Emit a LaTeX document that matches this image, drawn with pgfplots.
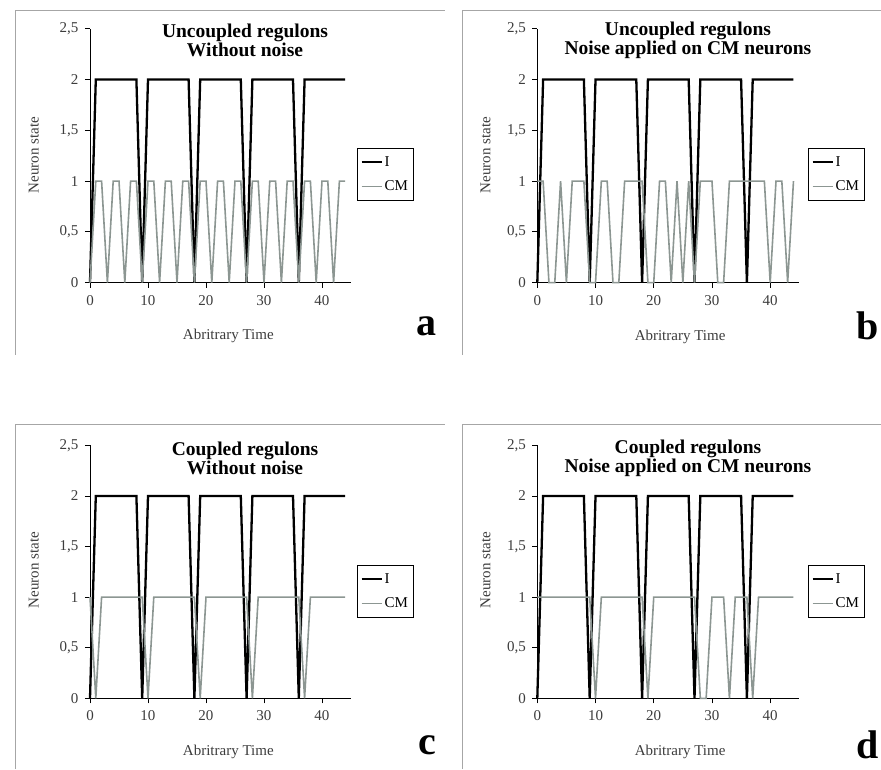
\documentclass[border=0pt]{standalone}
\usepackage{fontspec}
\setmainfont{Liberation Serif}
\usepackage{pgfplots}
\pgfplotsset{compat=1.18}
\definecolor{cmgray}{RGB}{140,150,146}
\definecolor{txt}{RGB}{60,60,60}
\pgfplotsset{
 common/.style={
  scale only axis,
  xmin=0, xmax=45, ymin=0, ymax=2.5,
  axis x line=bottom, axis y line=left,
  axis line style={-, black, line width=1pt},
  xtick={0,10,20,30,40},
  ytick={0,0.5,1,1.5,2,2.5},
  yticklabels={0,{0,5},1,{1,5},2,{2,5}},
  tick align=outside,
  major tick length=5pt,
  tick style={black, line width=0.8pt},
  tick label style={font=\fontsize{15}{15}\selectfont, text=txt},
  xticklabel style={yshift=-4pt},
  yticklabel style={xshift=-3pt},
  /pgf/number format/assume math mode=true,
  xlabel={Abritrary Time}, ylabel={Neuron state},
  label style={font=\fontsize{15}{15}\selectfont, text=txt},
  title style={font=\bfseries\fontsize{19.5}{19}\selectfont, align=center, anchor=center},
  legend style={draw=black, line width=0.8pt, font=\fontsize{15}{15}\selectfont, legend cell align=left, row sep=9pt, inner xsep=3pt, inner ysep=6pt, anchor=north west},
  legend image code/.code={\draw[##1] (0pt,0pt) -- (20pt,0pt);},
  clip=false,
 },
 Iline/.style={black, line width=2.3pt},
 CMline/.style={cmgray, line width=1.6pt},
}
\begin{document}
\begin{tikzpicture}[x=1pt,y=1pt]
\path[use as bounding box] (0pt,0pt) rectangle (881pt,769pt);
% frames
\draw[gray!70, line width=1pt] (15pt,414pt) -- (15pt,758pt) -- (445pt,758pt);
\draw[gray!70, line width=1pt] (462pt,414pt) -- (462pt,758pt) -- (881pt,758pt);
\draw[gray!70, line width=1pt] (15pt,0pt) -- (15pt,344pt) -- (445pt,344pt);
\draw[gray!70, line width=1pt] (462pt,0pt) -- (462pt,344pt) -- (881pt,344pt);

% panel a
\begin{axis}[common, at={(90pt,486.3pt)}, anchor=south west, width=261pt, height=254pt,
  title={Uncoupled regulons\\Without noise},
  title style={at={(axis description cs:0.594,0.93)}},
  xlabel style={at={(axis description cs:0.53,-0.209)}, anchor=center},
  ylabel style={at={(axis description cs:-0.215,0.503)}, anchor=center},
  legend style={at={(axis description cs:1.023,0.53)}}]
\addplot[Iline] coordinates {(0,0) (1,2) (8,2) (9,0) (10,2) (17,2) (18,0) (19,2) (26,2) (27,0) (28,2) (35,2) (36,0) (37,2) (44,2)};
\addplot[CMline] coordinates {(0,0) (1,1) (2,1) (3,0) (4,1) (5,1) (6,0) (7,1) (8,1) (9,0) (10,1) (11,1) (12,0) (13,1) (14,1) (15,0) (16,1) (17,1) (18,0) (19,1) (20,1) (21,0) (22,1) (23,1) (24,0) (25,1) (26,1) (27,0) (28,1) (29,1) (30,0) (31,1) (32,1) (33,0) (34,1) (35,1) (36,0) (37,1) (38,1) (39,0) (40,1) (41,1) (42,0) (43,1) (44,1)};
\legend{I,CM}
\node[font=\bfseries\fontsize{40}{40}\selectfont, text=black] at (axis description cs:1.291,-0.17) {a};
\end{axis}

% panel b
\begin{axis}[common, at={(537.3pt,486.3pt)}, anchor=south west, width=262pt, height=254pt,
  title={Uncoupled regulons\\Noise applied on CM neurons},
  title style={at={(axis description cs:0.575,0.93)}},
  xlabel style={at={(axis description cs:0.545,-0.213)}, anchor=center},
  ylabel style={at={(axis description cs:-0.198,0.503)}, anchor=center},
  legend style={at={(axis description cs:1.033,0.53)}}]
\addplot[Iline] coordinates {(0,0) (1,2) (8,2) (9,0) (10,2) (17,2) (18,0) (19,2) (26,2) (27,0) (28,2) (35,2) (36,0) (37,2) (44,2)};
\addplot[CMline] coordinates {(0,1) (1,1) (2,0) (3,0) (4,1) (5,0) (6,1) (7,1) (8,1) (9,0) (10,0) (11,1) (12,1) (13,0) (14,0) (15,1) (16,1) (17,1) (18,1) (19,0) (20,0) (21,1) (22,1) (23,0) (24,1) (25,0) (26,1) (27,0) (28,1) (29,1) (30,1) (31,0) (32,0) (33,1) (34,1) (35,1) (36,1) (37,1) (38,1) (39,1) (40,0) (41,1) (42,1) (43,0) (44,1)};
\legend{I,CM}
\node[font=\bfseries\fontsize{40}{40}\selectfont, text=black] at (axis description cs:1.262,-0.17) {b};
\end{axis}

% panel c
\begin{axis}[common, at={(90pt,70.7pt)}, anchor=south west, width=261pt, height=253pt,
  title={Coupled regulons\\Without noise},
  title style={at={(axis description cs:0.594,0.925)}},
  xlabel style={at={(axis description cs:0.53,-0.213)}, anchor=center},
  ylabel style={at={(axis description cs:-0.215,0.507)}, anchor=center},
  legend style={at={(axis description cs:1.023,0.527)}}]
\addplot[Iline] coordinates {(0,0) (1,2) (8,2) (9,0) (10,2) (17,2) (18,0) (19,2) (26,2) (27,0) (28,2) (35,2) (36,0) (37,2) (44,2)};
\addplot[CMline] coordinates {(0,1) (1,0) (2,1) (9,1) (10,0) (11,1) (18,1) (19,0) (20,1) (27,1) (28,0) (29,1) (36,1) (37,0) (38,1) (44,1)};
\legend{I,CM}
\node[font=\bfseries\fontsize{40}{40}\selectfont, text=black] at (axis description cs:1.291,-0.185) {c};
\end{axis}

% panel d
\begin{axis}[common, at={(537.3pt,70.7pt)}, anchor=south west, width=262pt, height=253pt,
  title={Coupled regulons\\Noise applied on CM neurons},
  title style={at={(axis description cs:0.575,0.925)}},
  xlabel style={at={(axis description cs:0.545,-0.213)}, anchor=center},
  ylabel style={at={(axis description cs:-0.198,0.507)}, anchor=center},
  legend style={at={(axis description cs:1.033,0.527)}}]
\addplot[Iline] coordinates {(0,0) (1,2) (8,2) (9,0) (10,2) (17,2) (18,0) (19,2) (26,2) (27,0) (28,2) (35,2) (36,0) (37,2) (44,2)};
\addplot[CMline] coordinates {(0,1) (9,1) (10,0) (11,1) (18,1) (19,0) (20,1) (27,1) (28,0) (29,0) (30,1) (32,1) (33,0) (34,1) (36,1) (37,0) (38,1) (44,1)};
\legend{I,CM}
\node[font=\bfseries\fontsize{40}{40}\selectfont, text=black] at (axis description cs:1.262,-0.185) {d};
\end{axis}
\end{tikzpicture}
\end{document}
